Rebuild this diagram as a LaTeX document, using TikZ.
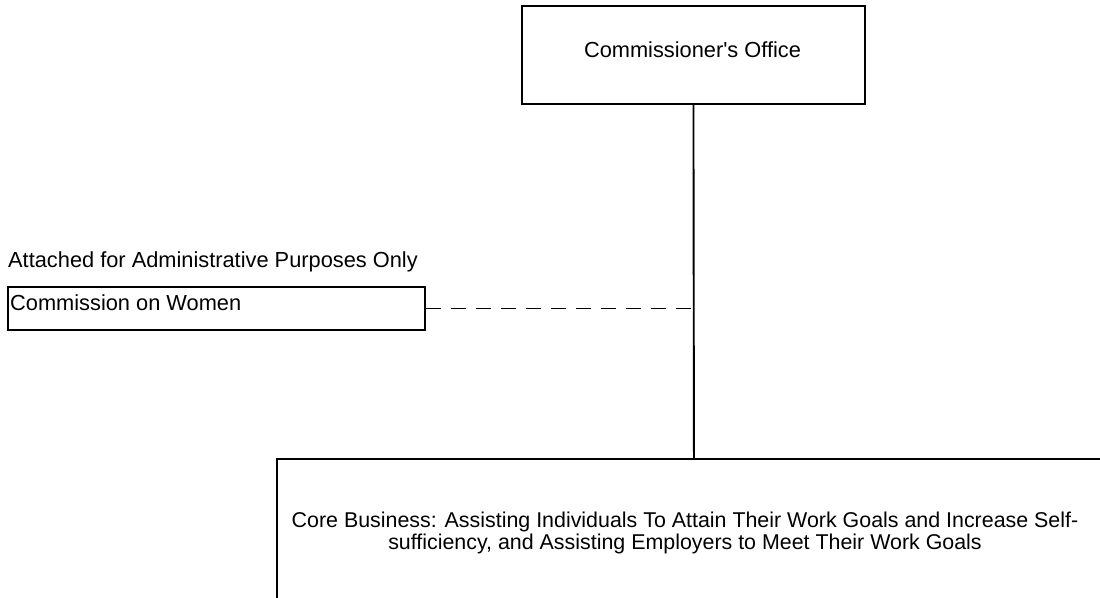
\documentclass[tikz,border=0pt]{standalone}
\usepackage{fontspec}
\setmainfont{Liberation Sans}
\begin{document}
\begin{tikzpicture}[x=1pt,y=-1pt,
  boxstyle/.style={draw=black,line width=1.9pt,inner sep=0pt,anchor=north west},
  lbl/.style={inner sep=0pt,font=\fontsize{21.8}{24}\selectfont},
  link/.style={line width=1.9pt},
  dashlink/.style={line width=1.9pt,dash pattern=on 15pt off 10pt}]
\useasboundingbox (0,0) rectangle (1100,597);
\clip (0,0) rectangle (1100,597);
% boxes
\node[boxstyle,minimum width=343pt,minimum height=98pt] (top) at (521,5) {};
\node[boxstyle,minimum width=417pt,minimum height=43pt] (comm) at (7,286) {};
\node[boxstyle,minimum width=834pt,minimum height=170pt] (core) at (276,458) {};
% texts
\node[lbl,anchor=base] (toptxt) at (692.5,57) {Commissioner\textquotesingle s Office};
\node[lbl,anchor=base west] (att) at (8,267) {Attached for Administrative Purposes Only};
\node[lbl,anchor=base west] (commtxt) at (10,310) {Commission on Women};
\node[inner sep=0pt,anchor=base,align=center,font=\fontsize{21.4}{21.6}\selectfont] (coretxt) at (685,549)
  {Core Business: Assisting Individuals To Attain Their Work Goals and Increase Self-\\
   sufficiency, and Assisting Employers to Meet Their Work Goals};
% connectors
\draw[link] (top.south) -- (core.north);
\draw[dashlink] (comm.east) -- (comm.east -| top.south);
\end{tikzpicture}
\end{document}
